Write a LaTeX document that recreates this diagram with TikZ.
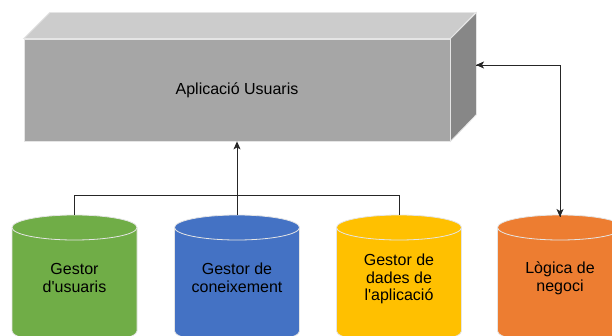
\documentclass[tikz,border=0pt]{standalone}
\usepackage{fontspec}
\setmainfont[Ligatures=TeXOff]{Liberation Sans}
\usetikzlibrary{arrows.meta}
\definecolor{verd}{HTML}{70AD47}
\definecolor{blau}{HTML}{4472C4}
\definecolor{groc}{HTML}{FFC000}
\definecolor{taronja}{HTML}{ED7D31}
\tikzset{
	vora/.style={draw=white!80!gray,line width=0.8pt},
	etiqueta/.style={align=center,text=black,font=\fontsize{16}{17.7}\selectfont},
	fletxa/.style={-{Stealth[length=8pt,width=7pt,inset=2pt]}},
	linia/.style={line width=0.9pt,black!85}
}
\begin{document}
\begin{tikzpicture}[x=1pt,y=-1pt]
						\useasboundingbox (0,0) rectangle (612,336);
						\clip (0,0) rectangle (612,336);
						
						\node[vora,fill=black!35,minimum width=426pt,minimum height=102pt,inner sep=0pt,text=black,font=\fontsize{16}{19}\selectfont] (app) at (237,90){Aplicació Usuaris};
						\draw[vora,fill=black!20] (app.north west) -- ++(26,-26) -- ++(426,0) -- (app.north east) -- cycle;
						\draw[vora,fill=black!47] (app.north east) -- ++(26,-26) -- ++(0,102) -- (app.south east) -- cycle;
						\coordinate (dreta) at (476,65);
						
						\foreach \x/\c/\n in {74.5/verd/gu,237/blau/gc,399/groc/gd,560/taronja/ln}{
							\draw[vora,fill=\c] (\x-62.5,227.5) arc[start angle=180,end angle=360,x radius=62.5,y radius=12.5] -- (\x+62.5,331) arc[start angle=0,end angle=180,x radius=62.5,y radius=12.5] -- cycle;
							\draw[vora] (\x-62.5,227.5) arc[start angle=180,end angle=0,x radius=62.5,y radius=12.5];
							\coordinate (\n) at (\x,215);
						}
						\node[etiqueta] (tgu) at (74.5,278) {Gestor\\d'usuaris};
						\node[etiqueta] (tgc) at (237,278) {Gestor de\\coneixement};
						\node[etiqueta] (tgd) at (399,279) {Gestor de\\dades de\\l'aplicació};
						\node[etiqueta] (tln) at (560,278) {Lògica de\\negoci};
						
						\draw[linia] (gu) -- ++(0,-20) -| (gd);
						\draw[linia,fletxa] (gc) -- (app.south);
						\draw[linia,fletxa] (dreta) -| ([yshift=-2pt]ln);
						\draw[linia,fletxa] ([yshift=-2pt]ln) |- (dreta);
					\end{tikzpicture}
\end{document}
